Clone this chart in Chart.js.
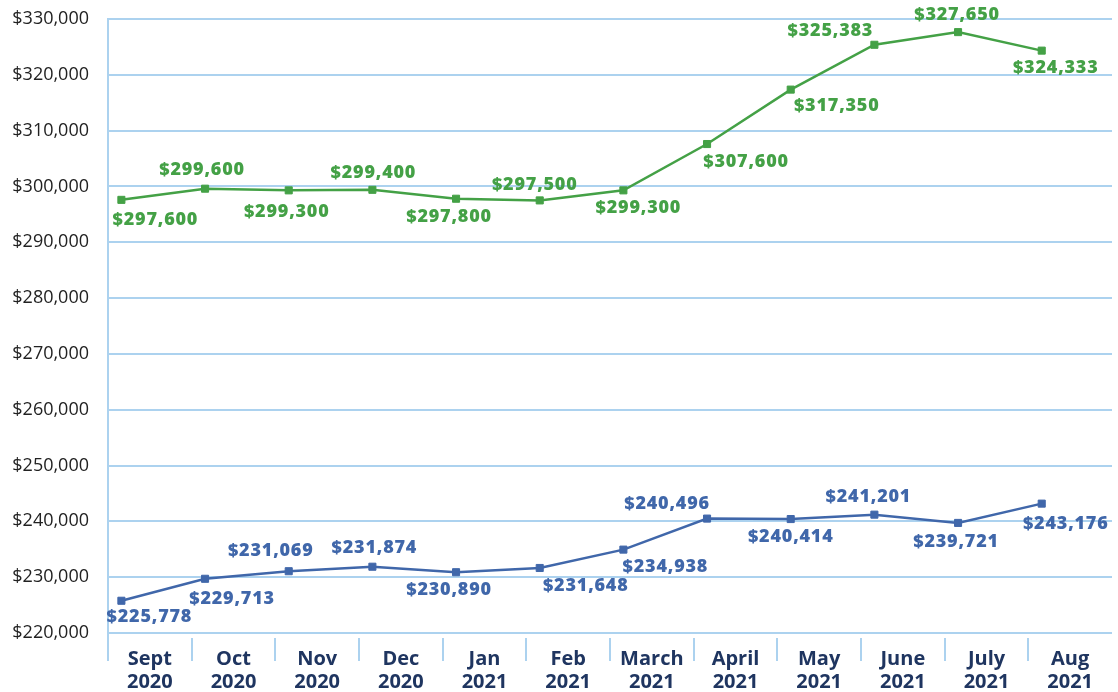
<!DOCTYPE html>
<html>
<head>
<meta charset="utf-8">
<script src="https://cdn.jsdelivr.net/npm/chart.js@4.4.1/dist/chart.umd.min.js"></script>
<style>
  html, body { margin: 0; padding: 0; background: #ffffff; }
  #wrap { width: 1118px; height: 692px; position: relative; }
</style>
</head>
<body>
<div id="wrap"><canvas id="c" width="1118" height="692"></canvas></div>
<script>
// ---- data ----
const monthLabels = ['Sept', 'Oct', 'Nov', 'Dec', 'Jan', 'Feb', 'March', 'April', 'May', 'June', 'July', 'Aug'];
const yearLabels  = ['2020', '2020', '2020', '2020', '2021', '2021', '2021', '2021', '2021', '2021', '2021', '2021'];
const greenValues = [297600, 299600, 299300, 299400, 297800, 297500, 299300, 307600, 317350, 325383, 327650, 324333];
const blueValues  = [225778, 229713, 231069, 231874, 230890, 231648, 234938, 240496, 240414, 241201, 239721, 243176];
const yMin = 220000;
const yMax = 330000;
const yStep = 10000;

// ---- label placement (pixel offsets from each point) ----
const greenLabelOffsets = [[34,20],[-3,-19],[-2,22],[1,-17],[-7,18],[-5,-16],[15,18],[39,18],[46,16],[-44,-14],[-1,-17],[14,17]];
const blueLabelOffsets  = [[28,16],[27,20],[-18,-20],[2,-19],[-7,18],[46,18],[42,17],[-40,-15],[0,18],[-6,-18],[-2,19],[24,20]];

const GREEN = '#44a146';
const BLUE = '#4067aa';
const GRID = '#acd2ef';
const NAVY = '#1f3560';

const categories = monthLabels.map((m, i) => [m, yearLabels[i]]);
const money = v => '$' + v.toLocaleString('en-US');

const labelPlugin = {
  id: 'valueLabels',
  afterDatasetsDraw(chart) {
    const ctx = chart.ctx;
    ctx.save();
    ctx.font = '800 18px "Open Sans"';
    if ('letterSpacing' in ctx) ctx.letterSpacing = '0.8px';
    ctx.textAlign = 'center';
    ctx.textBaseline = 'middle';
    chart.data.datasets.forEach((ds, di) => {
      const meta = chart.getDatasetMeta(di);
      const offs = ds.labelOffsets;
      ctx.fillStyle = ds.labelColor;
      meta.data.forEach((el, i) => {
        const o = offs[i];
        ctx.fillText(money(ds.data[i].y), el.x + o[0], el.y + o[1]);
      });
    });
    ctx.restore();
  }
};

const axisDecor = {
  id: 'axisDecor',
  afterDraw(chart) {
    const ctx = chart.ctx;
    const xc = chart.scales.xc;
    const area = chart.chartArea;
    ctx.save();
    ctx.strokeStyle = GRID;
    ctx.lineWidth = 2;
    ctx.beginPath();
    ctx.moveTo(area.left, area.bottom);
    ctx.lineTo(area.left, area.bottom + 28);
    ctx.stroke();
    for (let i = 1; i < categories.length; i++) {
      const x = Math.round((xc.getPixelForValue(i - 1) + xc.getPixelForValue(i)) / 2);
      ctx.beginPath();
      ctx.moveTo(x, area.bottom + 5);
      ctx.lineTo(x, area.bottom + 28);
      ctx.stroke();
    }
    ctx.restore();
  }
};

new Chart(document.getElementById('c'), {
  type: 'line',
  data: {
    labels: categories,
    datasets: [
      {
        data: greenValues.map((v, i) => ({ x: i, y: v })),
        borderColor: GREEN, backgroundColor: GREEN, borderWidth: 2.5,
        pointStyle: 'rect', pointRadius: 5, pointBorderWidth: 1, pointHoverRadius: 5,
        tension: 0, xAxisID: 'x', yAxisID: 'y',
        labelColor: GREEN, labelOffsets: greenLabelOffsets
      },
      {
        data: blueValues.map((v, i) => ({ x: i, y: v })),
        borderColor: BLUE, backgroundColor: BLUE, borderWidth: 2.5,
        pointStyle: 'rect', pointRadius: 5, pointBorderWidth: 1, pointHoverRadius: 5,
        tension: 0, xAxisID: 'x', yAxisID: 'y',
        labelColor: BLUE, labelOffsets: blueLabelOffsets
      }
    ]
  },
  options: {
    responsive: false,
    animation: false,
    devicePixelRatio: 1,
    layout: { padding: { top: 19, right: 0, left: 0, bottom: 0 } },
    plugins: { legend: { display: false }, tooltip: { enabled: false } },
    scales: {
      x: {
        type: 'linear', display: false,
        min: -0.16, max: categories.length - 0.16
      },
      xc: {
        type: 'category', position: 'bottom', offset: true,
        grid: { display: false, drawOnChartArea: false },
        border: { display: false },
        ticks: {
          color: NAVY, font: { family: '"Open Sans"', size: 20, weight: '700', lineHeight: 1.15 },
          padding: 7, maxRotation: 0, autoSkip: false
        },
        afterFit(s) { s.height = 59; }
      },
      y: {
        type: 'linear', min: yMin, max: yMax,
        ticks: {
          stepSize: yStep, color: '#222222', padding: 0,
          font: { family: '"Open Sans"', size: 18 },
          callback: v => money(v)
        },
        grid: { color: GRID, lineWidth: 2, drawTicks: true, tickLength: 19, tickColor: 'rgba(0,0,0,0)' },
        border: { display: true, color: GRID, width: 2 },
        afterFit(s) { s.width = 108; }
      }
    }
  },
  plugins: [labelPlugin, axisDecor]
});
</script>
</body>
</html>
